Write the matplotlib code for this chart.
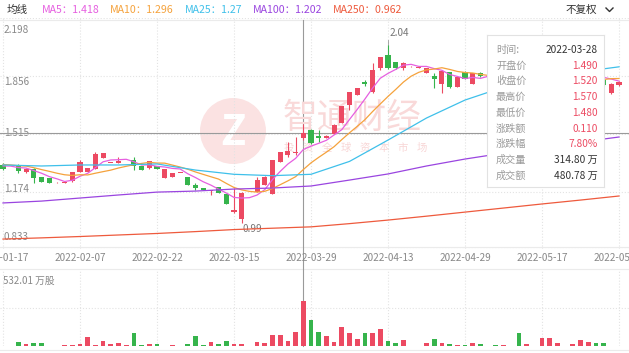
import numpy as np
import pandas as pd
import matplotlib
matplotlib.use("Agg")
import matplotlib.pyplot as plt
from matplotlib.patches import Circle

plt.rcParams['font.family'] = ['Noto Sans CJK SC', 'DejaVu Sans']

# ---- data (one candle per trading day) ----
open_ = [1.331,1.323,1.331,1.290,1.307,1.260,1.254,1.228,1.226,1.236,
         1.290,1.290,1.307,1.372,1.342,1.345,1.323,1.360,1.325,1.313,
         1.325,1.254,1.260,1.283,1.260,1.213,1.195,1.180,1.200,1.160,
         1.053,1.010,1.193,1.172,1.213,1.160,1.348,1.390,1.400,1.490,
         1.537,1.502,1.490,1.515,1.579,1.685,1.744,1.820,1.761,1.903,
         1.980,1.938,1.903,1.912,1.905,1.874,1.856,1.809,1.879,1.791,
         1.879,1.809,1.874,1.850,1.850,1.820,1.840,1.840,1.740,1.760,
         1.760,1.800,1.830,1.850,1.840,1.850,1.860,1.870,1.830,1.756,1.800]
close_ = [1.307,1.325,1.296,1.307,1.254,1.230,1.226,1.230,1.228,1.290,
          1.348,1.313,1.398,1.400,1.344,1.355,1.326,1.325,1.302,1.354,
          1.307,1.307,1.284,1.285,1.213,1.195,1.183,1.185,1.165,1.100,
          1.065,1.165,1.196,1.243,1.260,1.360,1.407,1.413,1.410,1.520,
          1.461,1.490,1.502,1.567,1.677,1.761,1.785,1.809,1.891,1.968,
          1.903,1.903,1.935,1.914,1.907,1.903,1.838,1.885,1.791,1.850,
          1.838,1.874,1.856,1.852,1.830,1.840,1.842,1.740,1.760,1.762,
          1.810,1.840,1.850,1.852,1.860,1.880,1.870,1.830,1.800,1.809,1.820]
high_ = [1.340,1.325,1.337,1.313,1.313,1.262,1.256,1.230,1.230,1.292,
         1.360,1.315,1.410,1.402,1.344,1.380,1.326,1.378,1.327,1.356,
         1.327,1.309,1.286,1.285,1.262,1.225,1.197,1.186,1.202,1.162,
         1.195,1.170,1.196,1.260,1.265,1.362,1.410,1.465,1.496,1.570,
         1.545,1.537,1.505,1.570,1.680,1.762,1.788,1.832,1.935,1.968,
         2.040,1.940,1.940,1.914,1.907,1.905,1.874,1.890,1.881,1.852,
         1.885,1.876,1.880,1.856,1.855,1.845,1.846,1.850,1.770,1.766,
         1.815,1.845,1.858,1.856,1.866,1.888,1.878,1.875,1.835,1.815,1.826]
low_ = [1.300,1.323,1.284,1.284,1.224,1.228,1.224,1.226,1.226,1.232,
        1.288,1.288,1.305,1.370,1.340,1.343,1.323,1.300,1.300,1.310,
        1.305,1.252,1.258,1.283,1.211,1.185,1.181,1.154,1.163,1.098,
        1.048,0.990,1.193,1.170,1.211,1.158,1.346,1.380,1.390,1.480,
        1.455,1.466,1.488,1.513,1.576,1.655,1.742,1.797,1.758,1.891,
        1.900,1.900,1.891,1.910,1.903,1.872,1.785,1.756,1.785,1.789,
        1.836,1.807,1.850,1.848,1.826,1.815,1.836,1.735,1.735,1.756,
        1.755,1.795,1.826,1.846,1.836,1.846,1.856,1.826,1.795,1.750,1.795]
# volume, 万股
vol = [3,2,26,12,21,21,3,2,7,7,
       16,61,5,33,16,19,9,91,7,14,
       14,3,7,2,14,70,7,26,14,33,
       14,14,3,26,19,77,77,37,100,314.80,
       182,98,72,28,133,89,51,89,93,117,
       35,21,40,3,2,21,47,19,16,7,
       7,19,16,3,7,7,2,91,16,3,
       58,58,21,3,16,42,26,19,19,3,2]
# closes before the first visible day (only feed MA5 / MA10)
pre_close = [1.35,1.34,1.33,1.35,1.34,1.33,1.34,1.32,1.33]

# long moving averages read at every 5th day
ma_idx = [0,5,10,15,20,25,30,35,40,45,50,55,60,65,70,75,80]
ma25 = [1.331,1.325,1.331,1.331,1.337,1.301,1.276,1.268,1.276,1.352,1.478,1.608,1.714,1.790,1.840,1.880,1.910]
ma100 = [1.107,1.118,1.136,1.154,1.171,1.177,1.189,1.195,1.207,1.242,1.278,1.325,1.366,1.401,1.431,1.466,1.496]
ma250 = [0.894,0.901,0.909,0.918,0.927,0.938,0.950,0.958,0.966,0.985,1.006,1.029,1.053,1.077,1.101,1.124,1.148]

tick_idx = [0,10,20,30,40,50,60,70,80]
tick_lab = ['2022-01-17','2022-02-07','2022-02-22','2022-03-15','2022-03-29',
            '2022-04-13','2022-04-29','2022-05-17','2022-05-31']
price_ticks = [2.198, 1.856, 1.515, 1.174, 0.833]
vol_max = 532.01
sel = 39          # 2022-03-28, the hovered day
sel_date = '2022-03-28'
sel_amount = 480.78

legend_items = [('MA5', 1.418, '#e65fe0'), ('MA10', 1.296, '#f5a23c'),
                ('MA25', 1.27, '#3fc0ea'), ('MA100', 1.202, '#9a45e0'),
                ('MA250', 0.962, '#ee5a3d')]

RED, GREEN = '#ec4a62', '#36b44c'
GRID = '#e3e3e3'

W, H = 629, 353
fig = plt.figure(figsize=(W / 100, H / 100), dpi=100)
fig.patch.set_facecolor('white')

n = len(close_)
xmin, xmax = -3 / 7.7, (W - 3) / 7.7
def px(k):
    return 3 + 7.7 * k

# background layer in pixel coordinates
bg = fig.add_axes([0, 0, 1, 1])
bg.set_xlim(0, W)
bg.set_ylim(H, 0)
bg.axis('off')
for y in [20, 247, 269, 350]:
    bg.plot([0, W], [y, y], color='#ebebeb', lw=0.8)
# watermark
bg.add_patch(Circle((233, 131), 33, color='#fbe2e2', lw=0))
bg.text(233, 133, 'Z', color='white', fontsize=30, fontweight='bold', ha='center', va='center')
bg.text(352, 118, '智通财经', color='#f9d9d9', fontsize=25, ha='center', va='center')
for i, ch in enumerate('投资全球资本市场'):
    bg.text(289 + 19 * i, 148, ch, color='#f8d6d6', fontsize=7.5, ha='center', va='center')
# legend row
bg.text(7, 10, '均线', color='#333333', fontsize=7.6, va='center')
for xpos, (name, val, col) in zip([42, 110, 185, 253, 333], legend_items):
    bg.text(xpos, 10, f'{name}：{val}', color=col, fontsize=7.6, va='center')
bg.text(566, 10, '不复权', color='#333333', fontsize=7.6, va='center')
bg.plot([606, 609.5, 613], [8, 11.5, 8], color='#333333', lw=1)
# date labels
for k, lab in zip(tick_idx, tick_lab):
    bg.text(px(k), 258, lab, color='#888888', fontsize=7.2, ha='center', va='center')
# price labels sit inside the panel, spread between its top and bottom
for p, ypix in zip(price_ticks, [30, 82, 133, 189, 237]):
    bg.text(4, ypix, f'{p:.3f}', color='#888888', fontsize=7.2, va='center')
# crosshair vertical through both panels
bg.plot([px(sel), px(sel)], [20, 346], color='#9a9a9a', lw=0.8)

# ---- price panel ----
ax = fig.add_axes([0, 1 - 249.4 / H, 1, (249.4 - 18) / H])
ax.set_xlim(xmin, xmax)
ax.set_ylim(0.833, 2.198)
ax.axis('off')
for k in tick_idx:
    ax.axvline(k, color=GRID, lw=0.8, ls=':')
for p in price_ticks:
    ax.axhline(p, color=GRID, lw=0.8, ls=':')
ax.axhline(close_[sel], color='#9a9a9a', lw=0.8)

idx = np.arange(n)
up = np.array(close_) >= np.array(open_)
colors = [RED if u else GREEN for u in up]
ax.vlines(idx, low_, high_, colors=colors, lw=0.8, zorder=3)
body_bottom = np.minimum(open_, close_)
body_h = np.maximum(np.abs(np.array(close_) - np.array(open_)), 0.004)
ax.bar(idx, body_h, bottom=body_bottom, width=0.66, color=colors, zorder=3)

allc = pd.Series(pre_close + close_)
ma5 = allc.rolling(5).mean().values[len(pre_close):]
ma10 = allc.rolling(10).mean().values[len(pre_close):]
ax.plot(idx, ma5, color=legend_items[0][2], lw=0.9, zorder=4)
ax.plot(idx, ma10, color=legend_items[1][2], lw=0.9, zorder=4)
ax.plot(ma_idx, ma25, color=legend_items[2][2], lw=0.9, zorder=4)
ax.plot(ma_idx, ma100, color=legend_items[3][2], lw=0.9, zorder=4)
ax.plot(ma_idx, ma250, color=legend_items[4][2], lw=0.9, zorder=4)

# max / min marks
kmax = int(np.argmax(high_))
kmin = int(np.argmin(low_))
ax.text(kmax + 0.2, high_[kmax] + 0.04, f'{high_[kmax]:.2f}', color='#777777', fontsize=7.2, va='bottom')
ax.plot([kmax, kmax], [high_[kmax], high_[kmax] + 0.03], color='#999999', lw=0.6)
ax.text(kmin + 0.1, low_[kmin] - 0.01, f'{low_[kmin]:.2f}', color='#777777', fontsize=7.2, va='top')

# ---- volume panel ----
vax = fig.add_axes([0, 1 - 346 / H, 1, (346 - 269.5) / H])
vax.set_xlim(xmin, xmax)
vax.set_ylim(0, vol_max)
vax.axis('off')
for k in tick_idx:
    vax.axvline(k, color=GRID, lw=0.8, ls=':')
vax.axhline(vol_max / 2, color=GRID, lw=0.8, ls=':')
vax.bar(idx, vol, width=0.6, color=colors, zorder=3)
vax.text(3 / W, 0.85, f'{vol_max:.2f} 万股', transform=vax.transAxes,
         color='#888888', fontsize=7, va='center')

# ---- tooltip ----
tip = fig.add_axes([487 / W, 1 - 187 / H, (604 - 487) / W, (187 - 35) / H])
tip.set_xlim(487, 604)
tip.set_ylim(187, 35)
tip.set_xticks([])
tip.set_yticks([])
tip.set_facecolor('white')
for s in tip.spines.values():
    s.set_color('#e2e2e2')
    s.set_linewidth(0.8)
chg = close_[sel] - close_[sel - 1]
rows = [('时间:', sel_date, '#333333'),
        ('开盘价', f'{open_[sel]:.3f}', RED),
        ('收盘价', f'{close_[sel]:.3f}', RED),
        ('最高价', f'{high_[sel]:.3f}', RED),
        ('最低价', f'{low_[sel]:.3f}', RED),
        ('涨跌额', f'{chg:.3f}', RED),
        ('涨跌幅', f'{chg / close_[sel - 1] * 100:.2f}%', RED),
        ('成交量', f'{vol[sel]:.2f} 万', '#333333'),
        ('成交额', f'{sel_amount:.2f} 万', '#333333')]
for y, (lab, val, col) in zip([50, 65.5, 81, 97, 113, 128.5, 144, 160, 176], rows):
    tip.text(496, y, lab, color='#9a9a9a', fontsize=7.3, va='center')
    tip.text(598, y, val, color=col, fontsize=7.3, va='center', ha='right')

fig.savefig('out.png', dpi=100)
